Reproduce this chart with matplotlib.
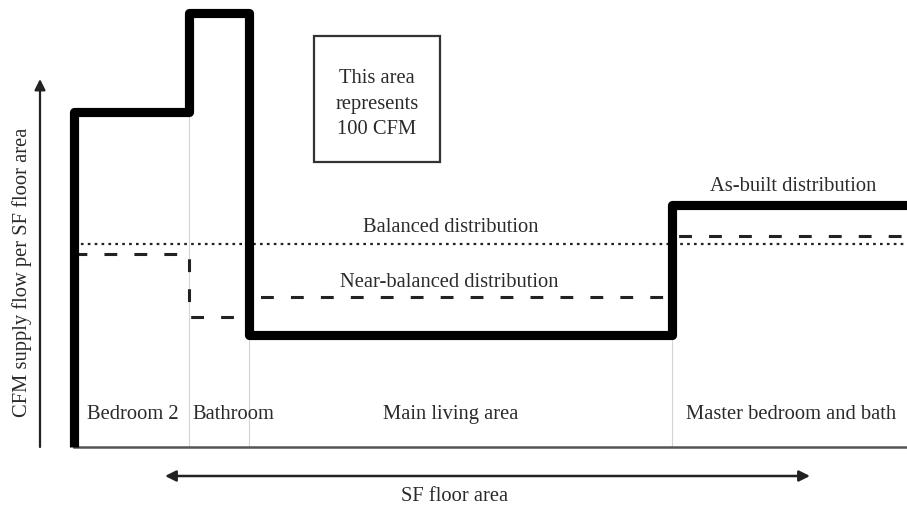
import numpy as np
import matplotlib
matplotlib.use("Agg")
import matplotlib.pyplot as plt
from matplotlib.patches import Rectangle

plt.rcParams['font.family'] = ['Liberation Serif', 'DejaVu Serif']

# ---- data ----
rooms = ["Bedroom 2", "Bathroom", "Main living area", "Master bedroom and bath"]
floor_area = [138, 72, 508, 282]               # SF (relative)
as_built = [1.65, 2.14, 0.55, 1.19]            # CFM per SF
near_balanced = [0.95, 0.64, 0.74, 1.04]       # CFM per SF
balanced = 1.0                                 # CFM per SF

TXT = '#2a2a2a'
FS = 14.8

fig = plt.figure(figsize=(9.07, 5.10), dpi=100)
W, H = 907, 510
ax = fig.add_axes([74 / W, 62 / H, 833 / W, 448 / H])
edges = np.concatenate([[0], np.cumsum(floor_area)])
ax.set_xlim(0, edges[-1])
ax.set_ylim(0, 448 / 203)
ax.axis('off')


def step_xy(vals):
    xs = np.repeat(edges, 2)[1:-1]
    ys = np.repeat(vals, 2)
    return xs, ys


# faint room separators
ab = np.array(as_built)
for i in range(1, len(edges) - 1):
    ax.vlines(edges[i], 0, min(ab[i - 1], ab[i]), color='#d4d4d4', lw=0.8, zorder=1)

# balanced (dotted)
ax.plot([edges[0], edges[-1]], [balanced, balanced], color='#222222', lw=1.6,
        linestyle=(0, (1.2, 1.9)), zorder=2, solid_capstyle='butt', dash_capstyle='butt')

# near-balanced (dashed)
xs, ys = step_xy(near_balanced)
ax.plot(xs, ys, color='#222222', lw=2.2, linestyle=(0, (4.2, 5.6)), zorder=2,
        dash_capstyle='butt')

# as-built (thick)
xs, ys = step_xy(as_built)
xs = np.concatenate([[edges[0]], xs])
ys = np.concatenate([[0], ys])
ax.plot(xs, ys, color='black', lw=6.6, solid_joinstyle='round',
        solid_capstyle='butt', zorder=3, clip_on=False)

# baseline
ax.plot([edges[0], edges[-1]], [0, 0], color='#555555', lw=1.8, zorder=2, clip_on=False)

# room labels
centers = (edges[:-1] + edges[1:]) / 2
for i, name in enumerate(rooms):
    if i == 1:
        ax.text(edges[i] + 4, 0.167, name, ha='left', va='center', fontsize=FS, color=TXT)
    elif i == 2:
        ax.text(452, 0.167, name, ha='center', va='center', fontsize=FS, color=TXT)
    else:
        ax.text(centers[i] + 2, 0.167, name, ha='center', va='center', fontsize=FS, color=TXT)

ax.text(452, 1.084, "Balanced distribution", ha='center', va='center', fontsize=FS, color=TXT)
ax.text(451, 0.813, "Near-balanced distribution", ha='center', va='center', fontsize=FS, color=TXT)
ax.text(863, 1.29, "As-built distribution", ha='center', va='center', fontsize=FS, color=TXT)

# legend-like box
bx, by = 363.7, 1.714
bw, bh = 151, 0.62
ax.add_patch(Rectangle((bx - bw / 2, by - bh / 2), bw, bh, fill=False,
                       edgecolor='#333333', lw=1.6, zorder=2))
ax.text(bx, by - 0.02, "This area\nrepresents\n100 CFM", ha='center', va='center',
        fontsize=FS, color=TXT, linespacing=1.45)

# axis arrows (figure coords)
ax_y = fig.add_axes([0, 0, 1, 1], facecolor='none')
ax_y.set_xlim(0, W)
ax_y.set_ylim(H, 0)
ax_y.axis('off')
ax_y.annotate('', xy=(40, 80), xytext=(40, 448),
              arrowprops=dict(arrowstyle='-|>', lw=1.6, color='#222222', mutation_scale=16,
                              shrinkA=0, shrinkB=0))
ax_y.annotate('', xy=(165, 477), xytext=(810, 477),
              arrowprops=dict(arrowstyle='<|-|>', lw=1.8, color='#222222', mutation_scale=16,
                              shrinkA=0, shrinkB=0))
ax_y.text(22, 272, "CFM supply flow per SF floor area", rotation=90, ha='center',
          va='center', fontsize=FS, color=TXT)
ax_y.text(455, 497, "SF floor area", ha='center', va='center', fontsize=FS, color=TXT)

fig.savefig("out.png", dpi=100)
